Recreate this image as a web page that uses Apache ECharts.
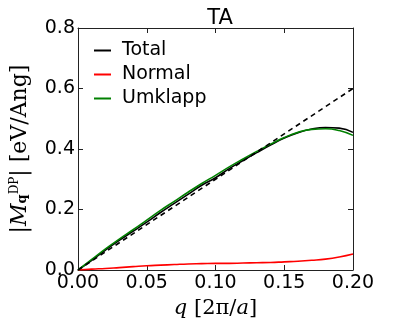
<!DOCTYPE html>
<html>
<head>
<meta charset="utf-8">
<script src="https://cdn.jsdelivr.net/npm/echarts@6/dist/echarts.min.js"></script>
<style>
  html, body { margin: 0; padding: 0; background: #fff; }
  #chart { width: 407px; height: 326px; }
</style>
</head>
<body>
<div id="chart"></div>
<script>
// q values in units of 2pi/a
var qValues = [0.00, 0.01, 0.02, 0.03, 0.04, 0.05, 0.06, 0.07, 0.08, 0.09, 0.10,
               0.11, 0.12, 0.13, 0.14, 0.15, 0.16, 0.17, 0.18, 0.19, 0.20];
var totalValues = [0, 0.032, 0.066, 0.098, 0.128, 0.158, 0.190, 0.220, 0.250, 0.280, 0.305,
                   0.335, 0.362, 0.388, 0.413, 0.436, 0.454, 0.466, 0.471, 0.469, 0.455];
var normalValues = [0, 0.003, 0.005, 0.008, 0.011, 0.014, 0.016, 0.018, 0.020, 0.021, 0.022,
                    0.022, 0.023, 0.024, 0.025, 0.027, 0.029, 0.032, 0.036, 0.043, 0.053];
var umklappValues = [0, 0.035, 0.070, 0.102, 0.133, 0.165, 0.197, 0.227, 0.257, 0.286, 0.313,
                     0.341, 0.367, 0.392, 0.416, 0.438, 0.455, 0.465, 0.467, 0.461, 0.445];
// linear reference (dashed)
var fitQ = [0.00, 0.20];
var fitValues = [0.0, 0.6];

function pairs(xs, ys) {
    var out = [];
    for (var i = 0; i < xs.length; i++) out.push([xs[i], ys[i]]);
    return out;
}

var tickFont = { fontFamily: 'DejaVu Sans', fontSize: 19, color: '#000' };
var frameLine = { show: true, onZero: false, lineStyle: { color: '#222', width: 1 } };
var innerTick = { show: true, inside: true, length: 5, lineStyle: { color: '#222' } };

var myChart = echarts.init(document.getElementById('chart'));
var option = {
    animation: false,
    backgroundColor: '#fff',
    title: {
        text: 'TA',
        left: 215,
        top: 3,
        textAlign: 'center',
        textStyle: { fontFamily: 'DejaVu Sans', fontSize: 21, fontWeight: 'normal', color: '#000' }
    },
    grid: { left: 78, right: 54, top: 28, bottom: 56, containLabel: false, outerBoundsMode: 'none' },
    legend: {
        left: 89,
        top: 36,
        orient: 'vertical',
        itemWidth: 17,
        itemHeight: 2,
        itemGap: 5,
        icon: 'rect',
        textStyle: { fontFamily: 'DejaVu Sans', fontSize: 19, color: '#000', padding: [0, 0, 0, 6] },
        data: ['Total', 'Normal', 'Umklapp']
    },
    xAxis: [{
        type: 'value',
        min: 0, max: 0.2, interval: 0.05,
        name: '{it|q} [2π/{it|a}]',
        nameLocation: 'middle',
        nameGap: 28,
        nameTextStyle: {
            fontFamily: 'DejaVu Serif', fontSize: 21, color: '#000',
            rich: { it: { fontFamily: 'DejaVu Serif', fontStyle: 'italic', fontSize: 21 } }
        },
        axisLine: frameLine,
        axisTick: innerTick,
        splitLine: { show: false },
        axisLabel: Object.assign({ margin: 4, formatter: function (v) { return v.toFixed(2); } }, tickFont)
    }, {
        type: 'value', position: 'top',
        min: 0, max: 0.2, interval: 0.05,
        axisLine: frameLine, axisTick: innerTick,
        splitLine: { show: false }, axisLabel: { show: false }
    }],
    yAxis: [{
        type: 'value',
        min: 0, max: 0.8, interval: 0.2,
        name: '|{it|M}{sub|q}{sup|DP}| [eV/Ang]',
        nameLocation: 'middle',
        nameGap: 47,
        nameTextStyle: {
            fontFamily: 'DejaVu Serif', fontSize: 22, color: '#000',
            rich: {
                it: { fontFamily: 'DejaVu Serif', fontStyle: 'italic', fontSize: 22 },
                sub: { fontFamily: 'DejaVu Serif', fontWeight: 'bold', fontSize: 13, padding: [6, 0, 0, 0] },
                sup: { fontFamily: 'DejaVu Serif', fontSize: 12, padding: [0, 0, 10, 0] }
            }
        },
        axisLine: frameLine,
        axisTick: innerTick,
        splitLine: { show: false },
        axisLabel: Object.assign({ margin: 3, formatter: function (v) { return v.toFixed(1); } }, tickFont)
    }, {
        type: 'value', position: 'right',
        min: 0, max: 0.8, interval: 0.2,
        axisLine: frameLine, axisTick: innerTick,
        splitLine: { show: false }, axisLabel: { show: false }
    }],
    series: [{
        name: 'Total', type: 'line', smooth: true, symbol: 'none',
        lineStyle: { color: '#000', width: 1.6 }, itemStyle: { color: '#000' },
        data: pairs(qValues, totalValues)
    }, {
        name: 'Normal', type: 'line', smooth: true, symbol: 'none',
        lineStyle: { color: '#ff0000', width: 1.6 }, itemStyle: { color: '#ff0000' },
        data: pairs(qValues, normalValues)
    }, {
        name: 'Umklapp', type: 'line', smooth: true, symbol: 'none',
        lineStyle: { color: '#008000', width: 1.6 }, itemStyle: { color: '#008000' },
        data: pairs(qValues, umklappValues)
    }, {
        name: 'fit', type: 'line', symbol: 'none',
        lineStyle: { color: '#000', width: 1.6, type: [5, 4] },
        data: pairs(fitQ, fitValues)
    }]
};
myChart.setOption(option);
</script>
</body>
</html>
